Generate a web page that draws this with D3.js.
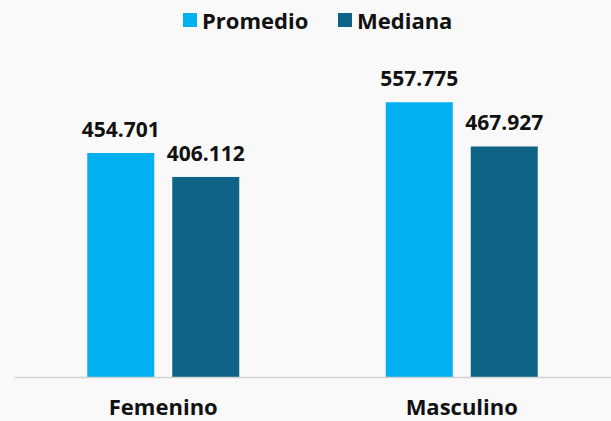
<!DOCTYPE html>
<html><head><meta charset="utf-8">
<script src="https://cdn.jsdelivr.net/npm/d3@7"></script>
<style>html,body{margin:0;padding:0;background:#f9f9f9;}svg{display:block;font-family:"Open Sans",sans-serif;}</style>
</head><body>
<svg id="c" width="611" height="421"></svg>
<script>
const categories = ["Femenino", "Masculino"];
const seriesNames = ["Promedio", "Mediana"];
const promedio = [454701, 557775];
const mediana = [406112, 467927];
const colors = ["#00b0f0", "#0e6387"];

const svg = d3.select("#c");
const W = 611, H = 421;
svg.append("rect").attr("width", W).attr("height", H).attr("fill", "#f9f9f9");

const baseY = 377;
const y = d3.scaleLinear().domain([0, 700000]).range([baseY, baseY - 700000 / 2030]);
const x0 = d3.scaleBand().domain(categories).range([14, 611]).paddingInner(0).paddingOuter(0);
const groupW = 152;
const x1 = d3.scaleBand().domain(seriesNames).range([0, groupW]).paddingInner(18 / 85).paddingOuter(0);

const data = categories.map((c, i) => ({cat: c, vals: [promedio[i], mediana[i]]}));
const fmt = v => d3.format(",")(v).replace(/,/g, ".");

const g = svg.selectAll("g.grp").data(data).join("g")
  .attr("transform", d => `translate(${x0(d.cat) + (x0.bandwidth() - groupW) / 2},0)`);

g.selectAll("rect").data(d => d.vals.map((v, j) => ({s: seriesNames[j], v, j}))).join("rect")
  .attr("x", d => x1(d.s)).attr("width", x1.bandwidth())
  .attr("y", d => y(d.v)).attr("height", d => baseY - y(d.v))
  .attr("fill", d => colors[d.j]);

g.selectAll("text.val").data(d => d.vals.map((v, j) => ({s: seriesNames[j], v, j}))).join("text")
  .attr("class", "val")
  .attr("x", d => x1(d.s) + x1.bandwidth() / 2)
  .attr("y", d => y(d.v) - 16)
  .attr("text-anchor", "middle")
  .attr("font-size", 21).attr("font-weight", 700).attr("fill", "#111")
  .text(d => fmt(d.v));

// baseline axis
const xAxis = d3.axisBottom(x0).tickSize(0).tickPadding(0);
const ax = svg.append("g").attr("transform", `translate(0,${baseY})`).call(xAxis);
ax.select(".domain").attr("stroke", "#d3d3d3").attr("stroke-width", 1.5);
ax.selectAll(".tick text").attr("dy", null).attr("y", 38)
  .attr("font-family", "'Open Sans',sans-serif")
  .attr("font-size", 22).attr("font-weight", 700).attr("fill", "#111");

// legend
const legX = [183, 338];
const leg = svg.selectAll("g.leg").data(seriesNames).join("g")
  .attr("transform", (d, i) => `translate(${legX[i]},13)`);
leg.append("rect").attr("width", 14).attr("height", 14).attr("fill", (d, i) => colors[i]);
leg.append("text").attr("x", 19).attr("y", 16).attr("font-size", 22).attr("font-weight", 700)
  .attr("fill", "#111").text(d => d);
</script>
</body></html>
